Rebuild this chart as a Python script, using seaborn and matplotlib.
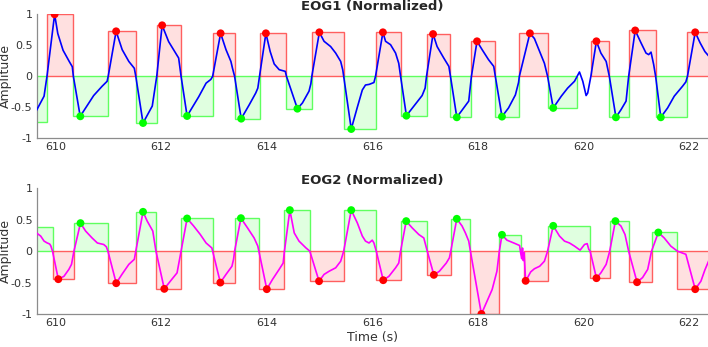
import numpy as np
import seaborn as sns
import matplotlib
matplotlib.use('Agg')
import matplotlib.pyplot as plt

# ---- EOG1 trace ----
t1 = [609.55, 609.62, 609.78, 609.835, 609.98, 610.04, 610.14, 610.26, 610.315, 610.335,
      610.465, 610.567, 610.72, 610.88, 610.975, 610.995, 611.145, 611.26, 611.386, 611.49,
      611.518, 611.655, 611.83, 611.915, 612.017, 612.14, 612.33, 612.376, 612.49, 612.71,
      612.85, 612.94, 612.974, 613.125, 613.227, 613.32, 613.35, 613.39, 613.515, 613.667,
      613.79, 613.83, 613.862, 613.983, 614.064, 614.14, 614.235, 614.35, 614.373, 614.58,
      614.675, 614.80, 614.835, 614.853, 614.996, 615.085, 615.21, 615.305, 615.40, 615.44,
      615.457, 615.6, 615.715, 615.81, 615.87, 615.94, 616.03, 616.06, 616.2, 616.25,
      616.345, 616.44, 616.50, 616.535, 616.645, 616.786, 616.943, 617.0, 617.026, 617.15,
      617.227, 617.353, 617.45, 617.48, 617.6, 617.73, 617.826, 617.877, 617.983, 618.08,
      618.2, 618.3, 618.33, 618.456, 618.58, 618.71, 618.77, 618.785, 618.985, 619.07,
      619.17, 619.26, 619.32, 619.427, 619.58, 619.70, 619.83, 619.924, 619.987, 620.05,
      620.08, 620.14, 620.245, 620.33, 620.43, 620.49, 620.615, 620.71, 620.807, 620.856,
      620.98, 621.09, 621.185, 621.235, 621.28, 621.33, 621.367, 621.465, 621.594, 621.72,
      621.877, 621.94, 621.97, 622.117, 622.21, 622.30, 622.40]
v1 = [-0.62, -0.576, -0.32, 0.0, 1.0, 0.69, 0.42, 0.235, 0.155, 0.0,
      -0.645, -0.51, -0.31, -0.16, -0.08, 0.0, 0.726, 0.43, 0.24, 0.13,
      0.0, -0.753, -0.48, 0.0, 0.823, 0.56, 0.295, 0.0, -0.64, -0.33,
      -0.11, -0.05, 0.0, 0.694, 0.43, 0.24, 0.13, 0.0, -0.683, -0.46,
      -0.27, -0.19, 0.0, 0.694, 0.40, 0.20, 0.107, 0.08, 0.0, -0.522,
      -0.43, -0.24, -0.12, 0.0, 0.71, 0.565, 0.48, 0.375, 0.24, 0.10,
      0.0, -0.85, -0.50, -0.22, -0.14, -0.13, -0.10, 0.0, 0.71, 0.565,
      0.51, 0.375, 0.21, 0.0, -0.635, -0.48, -0.31, -0.19, 0.0, 0.682,
      0.48, 0.295, 0.16, 0.0, -0.661, -0.51, -0.40, 0.0, 0.565, 0.43,
      0.27, 0.16, 0.0, -0.65, -0.51, -0.30, -0.10, 0.0, 0.694, 0.61,
      0.40, 0.21, 0.0, -0.51, -0.32, -0.19, -0.08, 0.07, -0.08, -0.31,
      -0.27, 0.0, 0.565, 0.375, 0.24, 0.0, -0.661, -0.54, -0.40, 0.0,
      0.74, 0.54, 0.375, 0.35, 0.39, 0.19, 0.0, -0.661, -0.51, -0.32,
      -0.16, -0.09, 0.0, 0.71, 0.54, 0.40, 0.30]

# EOG1 blocks (start, end, height)
b1_start = [609.5, 609.835, 610.335, 610.995, 611.518, 611.915, 612.376, 612.974, 613.39,
            613.862, 614.373, 614.853, 615.457, 616.06, 616.535, 617.026, 617.48, 617.877,
            618.33, 618.785, 619.32, 620.14, 620.49, 620.856, 621.367, 621.97]
b1_end = [609.835, 610.335, 610.995, 611.518, 611.915, 612.376, 612.974, 613.39, 613.862,
          614.373, 614.853, 615.457, 616.06, 616.535, 617.026, 617.48, 617.877, 618.33,
          618.785, 619.32, 619.88, 620.49, 620.856, 621.367, 621.97, 622.6]
b1_height = [-0.74, 1.0, -0.645, 0.726, -0.753, 0.823, -0.64, 0.694, -0.683, 0.694, -0.522,
             0.71, -0.85, 0.71, -0.635, 0.682, -0.661, 0.565, -0.65, 0.694, -0.51, 0.565,
             -0.661, 0.74, -0.661, 0.71]
p1_t = [609.98, 610.467, 611.145, 611.655, 612.017, 612.49, 613.125, 613.515, 613.983,
        614.58, 614.996, 615.6, 616.2, 616.645, 617.15, 617.6, 617.983, 618.456, 618.985,
        619.427, 620.245, 620.615, 620.98, 621.465, 622.117]
p1_v = b1_height[1:]

# ---- EOG2 trace ----
t2 = [609.55, 609.62, 609.716, 609.78, 609.84, 609.87, 609.89, 609.91, 609.94, 610.05,
      610.157, 610.25, 610.30, 610.346, 610.47, 610.567, 610.69, 610.79, 610.91, 610.96,
      610.99, 611.147, 611.255, 611.386, 611.49, 611.518, 611.655, 611.733, 611.84, 611.9,
      612.058, 612.17, 612.30, 612.376, 612.49, 612.614, 612.74, 612.85, 612.96, 612.974,
      613.12, 613.227, 613.34, 613.37, 613.39, 613.51, 613.635, 613.76, 613.83, 613.85,
      614.0, 614.108, 614.234, 614.31, 614.334, 614.437, 614.52, 614.61, 614.74, 614.815,
      614.99, 615.085, 615.18, 615.305, 615.40, 615.457, 615.6, 615.715, 615.81, 615.87,
      615.936, 615.998, 616.03, 616.074, 616.206, 616.314, 616.44, 616.5, 616.535, 616.641,
      616.755, 616.88, 616.975, 617.0, 617.04, 617.165, 617.27, 617.4, 617.46, 617.486,
      617.6, 617.70, 617.763, 617.826, 617.858, 618.066, 618.17, 618.27, 618.36, 618.406,
      618.456, 618.55, 618.68, 618.79, 618.81, 618.83, 618.845, 618.86, 618.875, 618.904,
      619.0, 619.07, 619.17, 619.26, 619.32, 619.427, 619.546, 619.64, 619.735, 619.83,
      619.936, 620.02, 620.07, 620.10, 620.126, 620.246, 620.33, 620.43, 620.497, 620.605,
      620.71, 620.787, 620.856, 621.015, 621.12, 621.217, 621.29, 621.418, 621.53, 621.655,
      621.78, 621.94, 622.0, 622.117, 622.225, 622.30, 622.40]
v2 = [0.33, 0.30, 0.24, 0.16, 0.13, 0.12, 0.11, 0.08, 0.0, -0.446,
      -0.40, -0.29, -0.21, 0.0, 0.446, 0.32, 0.21, 0.13, 0.106, 0.07,
      0.0, -0.51, -0.37, -0.21, -0.13, 0.0, 0.626, 0.48, 0.32, 0.0,
      -0.6, -0.48, -0.345, 0.0, 0.52, 0.40, 0.265, 0.13, 0.05, 0.0,
      -0.5, -0.37, -0.24, -0.13, 0.0, 0.525, 0.37, 0.21, 0.08, 0.0,
      -0.605, -0.45, -0.29, -0.19, 0.0, 0.653, 0.29, 0.16, 0.053, 0.0,
      -0.478, -0.37, -0.32, -0.265, -0.16, 0.0, 0.653, 0.45, 0.24, 0.16,
      0.13, 0.175, 0.13, 0.0, -0.462, -0.40, -0.265, -0.19, 0.0, 0.478,
      0.37, 0.265, 0.21, 0.13, 0.0, -0.377, -0.32, -0.19, -0.106, 0.0,
      0.515, 0.40, 0.29, 0.16, 0.0, -1.0, -0.8, -0.61, -0.32, 0.0,
      0.26, 0.175, 0.13, 0.09, -0.03, -0.12, 0.05, -0.15, -0.02, -0.478,
      -0.33, -0.28, -0.24, -0.16, 0.0, 0.403, 0.24, 0.16, 0.13, 0.08,
      0.016, 0.106, 0.12, 0.03, 0.0, -0.43, -0.345, -0.21, 0.0, 0.478,
      0.40, 0.265, 0.0, -0.494, -0.42, -0.29, 0.0, 0.297, 0.21, 0.08,
      0.0, -0.05, -0.24, -0.605, -0.478, -0.30, -0.10]

b2_start = [609.5, 609.94, 610.346, 610.99, 611.518, 611.9, 612.376, 612.974, 613.39,
            613.85, 614.334, 614.815, 615.457, 616.074, 616.535, 617.04, 617.486, 617.858,
            618.406, 618.866, 619.32, 620.126, 620.497, 620.856, 621.29, 621.78]
b2_end = [609.94, 610.346, 610.99, 611.518, 611.9, 612.376, 612.974, 613.39, 613.85,
          614.334, 614.815, 615.457, 616.074, 616.535, 617.04, 617.486, 617.858, 618.406,
          618.815, 619.32, 620.126, 620.497, 620.856, 621.29, 621.78, 622.6]
b2_height = [0.39, -0.446, 0.446, -0.51, 0.626, -0.6, 0.52, -0.5, 0.525, -0.605, 0.653,
             -0.478, 0.653, -0.462, 0.478, -0.377, 0.515, -1.0, 0.26, -0.472, 0.403, -0.43,
             0.478, -0.494, 0.297, -0.605]
p2_t = [610.05, 610.47, 611.147, 611.655, 612.058, 612.49, 613.12, 613.51, 614.0, 614.437,
        614.99, 615.6, 616.206, 616.641, 617.165, 617.6, 618.066, 618.456, 618.904, 619.427,
        620.246, 620.605, 621.015, 621.418, 622.117]
p2_v = b2_height[1:]

sns.set_style('white')
plt.rcParams['font.family'] = ['DejaVu Sans']

RED = (1, 0, 0)
GREEN = (0, 1, 0)

fig = plt.figure(figsize=(7.08, 3.47), dpi=100)
ax1 = fig.add_axes([0.0518, 0.6014, 0.9475, 0.3573])
ax2 = fig.add_axes([0.0518, 0.0951, 0.9475, 0.3622])


def draw(ax, t, v, bs, be, bh, pt, pv, pos_col, neg_col, line_col, title):
    bs = np.array(bs)
    be = np.array(be)
    bh = np.array(bh)
    cols = [pos_col if h > 0 else neg_col for h in bh]
    ax.bar(bs, bh, width=be - bs, align='edge',
           color=[c + (0.12,) for c in cols],
           edgecolor=[c + (0.6,) for c in cols], linewidth=1.0, zorder=1)
    sns.lineplot(x=t, y=v, ax=ax, color=line_col, linewidth=1.2,
                 sort=False, estimator=None, zorder=3)
    mcols = [pos_col if p > 0 else neg_col for p in pv]
    sns.scatterplot(x=pt, y=pv, ax=ax, c=mcols, s=32, linewidth=0, zorder=4)
    ax.set_xlim(609.64, 622.35)
    ax.set_ylim(-1, 1)
    ax.set_xticks([610, 612, 614, 616, 618, 620, 622])
    ax.set_yticks([-1, -0.5, 0, 0.5, 1])
    ax.set_yticklabels(['-1', '-0.5', '0', '0.5', '1'])
    ax.tick_params(direction='in', length=3.5, width=0.8, colors='#808080',
                   labelcolor='#333333', labelsize=8, pad=3)
    for s in ['top', 'right']:
        ax.spines[s].set_visible(False)
    for s in ['left', 'bottom']:
        ax.spines[s].set_color('#8c8c8c')
        ax.spines[s].set_linewidth(0.9)
    ax.set_ylabel('Amplitude', fontsize=9, color='#333333')
    ax.yaxis.set_label_coords(-0.037, 0.5)
    ax.set_title(title, fontsize=9.5, fontweight='bold', pad=3)


draw(ax1, t1, v1, b1_start, b1_end, b1_height, p1_t, p1_v, RED, GREEN, 'blue', 'EOG1 (Normalized)')
draw(ax2, t2, v2, b2_start, b2_end, b2_height, p2_t, p2_v, GREEN, RED, '#ff00ff', 'EOG2 (Normalized)')
ax2.set_xlabel('Time (s)', fontsize=9, color='#333333', labelpad=2)

fig.savefig('out.png', dpi=100)
